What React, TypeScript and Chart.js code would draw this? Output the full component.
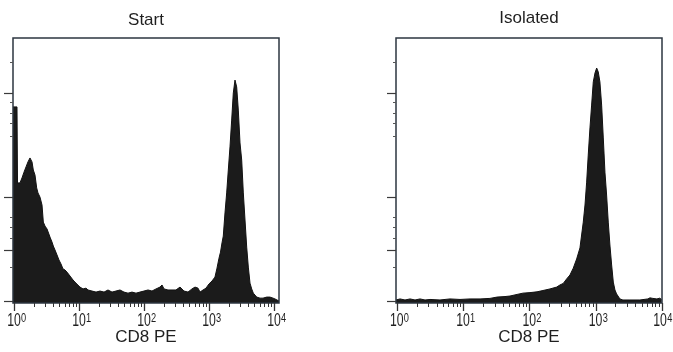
import React, { useEffect, useRef } from "react";
import { Chart, registerables } from "chart.js";

Chart.register(...registerables);

// ---- data (log10 of CD8 PE fluorescence, relative event counts) ----
const START_LOG_FL = [
  -0.015, 0.046, 0.054, 0.092, 0.123, 0.154, 0.185, 0.215, 0.246, 0.277, 0.297, 0.323, 0.349, 0.369, 0.4,
  0.431, 0.451, 0.477, 0.508, 0.554, 0.585, 0.605, 0.631, 0.662, 0.692, 0.723, 0.754, 0.785, 0.815, 0.862,
  0.908, 0.954, 1.015, 1.062, 1.108, 1.138, 1.2, 1.262, 1.323, 1.385, 1.446, 1.508, 1.569, 1.631, 1.692,
  1.754, 1.815, 1.877, 1.938, 2.0, 2.062, 2.123, 2.185, 2.246, 2.277, 2.308, 2.369, 2.431, 2.492, 2.554,
  2.615, 2.677, 2.738, 2.785, 2.831, 2.862, 2.908, 2.954, 3.0, 3.046, 3.092, 3.123, 3.154, 3.177, 3.2,
  3.22, 3.246, 3.272, 3.297, 3.323, 3.349, 3.374, 3.4, 3.426, 3.451, 3.477, 3.503, 3.528, 3.554, 3.58,
  3.605, 3.631, 3.657, 3.682, 3.734, 3.785, 3.831, 3.888, 3.938, 3.985, 4.015, 4.046, 4.077,
];
const START_COUNTS = [
  73.8, 73.8, 44.9, 44.9, 46.8, 49.0, 51.0, 52.9, 54.4, 52.9, 49.8, 47.9, 43.0, 41.1, 39.5,
  36.5, 30.0, 28.5, 27.4, 24.3, 22.4, 20.9, 19.4, 17.5, 15.6, 14.1, 12.2, 11.8, 11.0, 9.5,
  8.0, 6.8, 5.3, 4.6, 4.9, 4.2, 3.8, 3.4, 3.8, 3.4, 4.2, 3.4, 3.8, 4.2, 3.4,
  3.0, 3.4, 3.0, 3.4, 3.8, 4.2, 3.8, 4.6, 5.3, 6.1, 4.6, 4.2, 4.2, 4.2, 5.3,
  3.8, 3.4, 4.6, 5.3, 4.9, 3.4, 4.2, 4.9, 6.5, 7.6, 9.1, 12.5, 16.3, 18.6, 22.1,
  24.7, 33.5, 41.1, 49.8, 58.6, 68.8, 79.1, 84.0, 81.4, 72.6, 60.1, 53.6, 41.1, 30.8, 20.5,
  12.9, 6.8, 4.6, 3.0, 1.5, 1.1, 1.1, 1.5, 1.5, 1.1, 0.8, 0.4, 0,
];

const ISOLATED_LOG_FL = [
  -0.011, 0.05, 0.125, 0.201, 0.276, 0.351, 0.427, 0.502, 0.653, 0.804, 0.955, 1.106, 1.257, 1.407, 1.513,
  1.634, 1.709, 1.815, 1.905, 2.011, 2.117, 2.207, 2.313, 2.413, 2.463, 2.513, 2.564, 2.614, 2.664, 2.715,
  2.765, 2.79, 2.815, 2.841, 2.866, 2.89, 2.916, 2.941, 2.966, 2.992, 3.017, 3.041, 3.066, 3.092, 3.117,
  3.142, 3.167, 3.192, 3.217, 3.243, 3.268, 3.293, 3.318, 3.368, 3.413, 3.519, 3.67, 3.79, 3.821, 3.866,
  3.926, 3.971, 4.0,
];
const ISOLATED_COUNTS = [
  0.4, 0.8, 0.4, 0.8, 0.4, 0.8, 0.4, 0.6, 0.4, 0.8, 0.6, 0.8, 0.8, 1.0, 1.5,
  1.7, 1.9, 2.5, 3.0, 3.2, 3.5, 4.0, 4.6, 5.3, 6.1, 6.7, 8.4, 9.9, 12.5, 16.0,
  20.2, 25.1, 30.0, 36.5, 45.2, 55.5, 65.8, 74.5, 83.3, 86.7, 88.6, 87.1, 83.3, 74.5, 62.0,
  49.0, 40.3, 30.0, 21.3, 13.7, 7.2, 4.2, 2.7, 0.8, 0.4, 0.4, 0.4, 0.8, 1.2, 1.0,
  0.8, 1.1, 0.4,
];

const PANEL_TITLES = ["Start", "Isolated"];
const X_AXIS_TITLE = "CD8 PE";
const X_TICK_BASE = "10";
const X_DECADE_EXPONENTS = [0, 1, 2, 3, 4];
const X_MINOR_MULTIPLIERS = [2, 3, 4, 5, 6, 7, 8, 9];
const Y_MAJOR_TICKS = [0, 19.4, 39.5, 79.1];
const Y_MINOR_TICKS = [12.9, 24.0, 28.1, 31.9, 62.7, 67.7, 71.5, 75.7, 90.9];

// ---- layout / style ----
const FONT_FAMILY = '"Liberation Sans", Arial, Helvetica, sans-serif';
const TEXT_COLOR = "#1f1f1f";
const FRAME_COLOR = "#2d3640";
const FILL_COLOR = "#1b1b1b";

const PANELS = [
  {
    title: PANEL_TITLES[0],
    logX: START_LOG_FL,
    counts: START_COUNTS,
    canvasLeft: 0,
    canvasWidth: 336,
    padLeft: 13,
    padRight: 57,
    titlePadTop: 10.3,
    titlePadBottom: 7.3,
    xMinExp: -0.0154,
    xMaxExp: 4.077,
  },
  {
    title: PANEL_TITLES[1],
    logX: ISOLATED_LOG_FL,
    counts: ISOLATED_COUNTS,
    canvasLeft: 336,
    canvasWidth: 337,
    padLeft: 60,
    padRight: 11,
    titlePadTop: 8.3,
    titlePadBottom: 9.3,
    xMinExp: -0.011,
    xMaxExp: 4.003,
  },
];

const CANVAS_HEIGHT = 352;

const axisDecor = {
  id: "axisDecor",
  afterDatasetsDraw(chart: any) {
    const { ctx, chartArea: a, scales } = chart;
    const xs = scales.x;
    const ys = scales.y;
    ctx.save();

    // frame
    ctx.strokeStyle = FRAME_COLOR;
    ctx.lineWidth = 1.5;
    ctx.strokeRect(a.left, a.top, a.right - a.left, a.bottom - a.top);

    const seg = (x1: number, y1: number, x2: number, y2: number) => {
      ctx.beginPath();
      ctx.moveTo(x1, y1);
      ctx.lineTo(x2, y2);
      ctx.stroke();
    };

    // y tick marks (unlabelled)
    ctx.strokeStyle = "#3a3a3a";
    ctx.lineWidth = 1.2;
    for (const v of Y_MAJOR_TICKS) {
      const py = Math.round(ys.getPixelForValue(v)) + 0.5;
      seg(a.left - 9, py, a.left, py);
    }
    ctx.lineWidth = 1;
    ctx.strokeStyle = "#555";
    for (const v of Y_MINOR_TICKS) {
      const py = Math.round(ys.getPixelForValue(v)) + 0.5;
      seg(a.left - 3, py, a.left, py);
    }

    // x tick marks
    ctx.strokeStyle = "#333";
    const lastExp = X_DECADE_EXPONENTS[X_DECADE_EXPONENTS.length - 1];
    for (const e of X_DECADE_EXPONENTS) {
      const px = Math.round(xs.getPixelForValue(Math.pow(10, e))) + 0.5;
      ctx.lineWidth = 1.3;
      seg(px, a.bottom, px, a.bottom + 8);
      if (e < lastExp) {
        ctx.lineWidth = 1;
        for (const m of X_MINOR_MULTIPLIERS) {
          const p2 = Math.round(xs.getPixelForValue(m * Math.pow(10, e))) + 0.5;
          seg(p2, a.bottom, p2, a.bottom + 4);
        }
      }
    }

    // x tick labels: "10" with raised exponent, condensed like the original
    const SX = 0.68;
    const SXE = 0.74;
    const baseFont = `18px ${FONT_FAMILY}`;
    const expFont = `12.5px ${FONT_FAMILY}`;
    ctx.fillStyle = TEXT_COLOR;
    ctx.textBaseline = "alphabetic";
    ctx.textAlign = "left";
    for (const e of X_DECADE_EXPONENTS) {
      const px = xs.getPixelForValue(Math.pow(10, e));
      const expText = String(e);
      ctx.font = baseFont;
      const wBase = ctx.measureText(X_TICK_BASE).width * SX;
      ctx.font = expFont;
      const wExp = ctx.measureText(expText).width * SXE;
      let left = px - wBase / 2;
      const maxRight = chart.width - 1;
      if (left + wBase + wExp > maxRight) left = maxRight - wBase - wExp;
      ctx.save();
      ctx.font = baseFont;
      ctx.translate(left, a.bottom + 23);
      ctx.scale(SX, 1);
      ctx.fillText(X_TICK_BASE, 0, 0);
      ctx.restore();
      ctx.save();
      ctx.font = expFont;
      ctx.translate(left + wBase + 0.3, a.bottom + 18.5);
      ctx.scale(SXE, 1);
      ctx.fillText(expText, 0, 0);
      ctx.restore();
    }
    ctx.restore();
  },
};

function Panel({ cfg }: { cfg: (typeof PANELS)[number] }) {
  const ref = useRef<HTMLCanvasElement | null>(null);
  useEffect(() => {
    if (!ref.current) return;
    const points = cfg.logX.map((lx, i) => ({ x: Math.pow(10, lx), y: cfg.counts[i] }));
    const chart = new Chart(ref.current, {
      type: "line",
      data: {
        datasets: [
          {
            data: points,
            borderColor: "#111111",
            backgroundColor: FILL_COLOR,
            borderWidth: 1,
            fill: "start",
            pointRadius: 0,
            tension: 0,
          },
        ],
      },
      options: {
        responsive: false,
        animation: false,
        devicePixelRatio: 1,
        events: [],
        layout: { padding: { left: cfg.padLeft, right: cfg.padRight, top: 0, bottom: 4.8 } },
        plugins: {
          legend: { display: false },
          tooltip: { enabled: false },
          title: {
            display: true,
            text: cfg.title,
            color: TEXT_COLOR,
            font: { family: FONT_FAMILY, size: 17, weight: "normal", lineHeight: 1.2 },
            padding: { top: cfg.titlePadTop, bottom: cfg.titlePadBottom },
          },
        },
        scales: {
          x: {
            type: "logarithmic",
            min: Math.pow(10, cfg.xMinExp),
            max: Math.pow(10, cfg.xMaxExp),
            grid: { display: false, drawTicks: false },
            border: { display: false },
            ticks: { display: false },
            title: {
              display: true,
              text: X_AXIS_TITLE,
              color: TEXT_COLOR,
              font: { family: FONT_FAMILY, size: 17, lineHeight: 1.2 },
              padding: { top: 23.8, bottom: 0 },
            },
          },
          y: {
            type: "linear",
            display: false,
            min: -0.75,
            max: 100,
          },
        },
      },
      plugins: [axisDecor],
    } as any);
    return () => chart.destroy();
  }, [cfg]);
  return (
    <canvas
      ref={ref}
      width={cfg.canvasWidth}
      height={CANVAS_HEIGHT}
      style={{
        position: "absolute",
        left: cfg.canvasLeft,
        top: 0,
        width: cfg.canvasWidth,
        height: CANVAS_HEIGHT,
      }}
    />
  );
}

export default function App() {
  return (
    <div
      style={{
        position: "absolute",
        left: 0,
        top: 0,
        width: 673,
        height: CANVAS_HEIGHT,
        background: "#ffffff",
        overflow: "hidden",
      }}
    >
      {PANELS.map((p) => (
        <Panel key={p.title} cfg={p} />
      ))}
    </div>
  );
}
